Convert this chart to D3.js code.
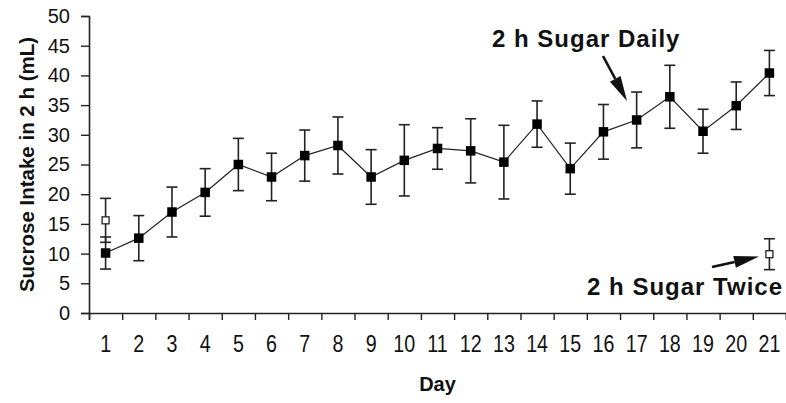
<!DOCTYPE html>
<html>
<head>
<meta charset="utf-8">
<script src="https://cdn.jsdelivr.net/npm/d3@7"></script>
<style>
  body { margin: 0; background: #fff; }
  text { font-family: "Liberation Sans", Arial, sans-serif; fill: #111; }
</style>
</head>
<body>
<div id="chart"></div>
<script>
// data
var days = [1, 2, 3, 4, 5, 6, 7, 8, 9, 10, 11, 12, 13, 14, 15, 16, 17, 18, 19, 20, 21];
var dailyMean = [10.1, 12.6, 17.0, 20.3, 25.0, 22.9, 26.5, 28.2, 22.9, 25.7, 27.7, 27.3, 25.4, 31.8, 24.3, 30.5, 32.5, 36.4, 30.6, 34.9, 40.4];
var dailyErr = [2.7, 3.8, 4.2, 4.0, 4.4, 4.0, 4.3, 4.8, 4.6, 6.0, 3.5, 5.4, 6.2, 3.9, 4.3, 4.6, 4.7, 5.3, 3.7, 4.0, 3.8];
var twiceDays = [1, 21];
var twiceMean = [15.6, 9.9];
var twiceErr = [3.7, 2.6];
var yTicks = [0, 5, 10, 15, 20, 25, 30, 35, 40, 45, 50];

var W = 786, H = 403;
var mLeft = 89, mRight = 786, mTop = 16, mBottom = 313;

var svg = d3.select("#chart").append("svg")
    .attr("width", W).attr("height", H);

var x = d3.scaleBand().domain(days).range([mLeft, mRight]).padding(0);
var xEdge = d3.scaleLinear().domain([0, days.length]).range([mLeft, mRight]);
var y = d3.scaleLinear().domain([0, 50]).range([mBottom, mTop]);

// y axis
var yAxis = svg.append("g")
    .attr("transform", "translate(" + mLeft + ",0)")
    .call(d3.axisLeft(y).tickValues(yTicks).tickSize(8).tickPadding(11));
yAxis.selectAll("text").style("font-size", "20px");

// x axis: boundary ticks + centred labels
svg.append("g")
    .attr("transform", "translate(0," + mBottom + ")")
    .call(d3.axisBottom(xEdge).tickValues(d3.range(0, days.length + 1)).tickSize(7).tickFormat(""));
var xLab = svg.append("g")
    .attr("transform", "translate(0," + mBottom + ")")
    .call(d3.axisBottom(x).tickSize(0).tickPadding(22));
xLab.select(".domain").remove();
xLab.selectAll("text").style("font-size", "24px").attr("transform", "scale(0.82,1)");

svg.selectAll(".domain").attr("stroke", "#222").attr("stroke-width", 1.6);
svg.selectAll(".tick line").attr("stroke", "#222").attr("stroke-width", 1.4);

// axis titles
svg.append("text")
    .attr("transform", "translate(34," + ((mTop + mBottom) / 2) + ") rotate(-90)")
    .attr("text-anchor", "middle")
    .style("font-size", "20.5px").style("font-weight", "bold")
    .text("Sucrose Intake in 2 h (mL)");
svg.append("text")
    .attr("x", x(11) + x.bandwidth() / 2).attr("y", 391)
    .attr("text-anchor", "middle")
    .style("font-size", "20px").style("font-weight", "bold")
    .text("Day");

var cx = function (d) { return x(d) + x.bandwidth() / 2; };
var capW = 5.5;

function errorBars(g, dayArr, mean, err) {
  var rows = dayArr.map(function (d, i) { return { day: d, m: mean[i], e: err[i] }; });
  var eb = g.selectAll(null).data(rows).enter().append("g")
      .attr("stroke", "#222").attr("stroke-width", 1.6);
  eb.append("line")
      .attr("x1", function (d) { return cx(d.day); })
      .attr("x2", function (d) { return cx(d.day); })
      .attr("y1", function (d) { return y(d.m - d.e); })
      .attr("y2", function (d) { return y(d.m + d.e); });
  eb.append("line")
      .attr("x1", function (d) { return cx(d.day) - capW; })
      .attr("x2", function (d) { return cx(d.day) + capW; })
      .attr("y1", function (d) { return y(d.m + d.e); })
      .attr("y2", function (d) { return y(d.m + d.e); });
  eb.append("line")
      .attr("x1", function (d) { return cx(d.day) - capW; })
      .attr("x2", function (d) { return cx(d.day) + capW; })
      .attr("y1", function (d) { return y(d.m - d.e); })
      .attr("y2", function (d) { return y(d.m - d.e); });
  return rows;
}

var plot = svg.append("g");
errorBars(plot, twiceDays, twiceMean, twiceErr);
var dailyRows = errorBars(plot, days, dailyMean, dailyErr);

// daily line
plot.append("path")
    .datum(dailyRows)
    .attr("fill", "none").attr("stroke", "#222").attr("stroke-width", 1.2)
    .attr("d", d3.line().x(function (d) { return cx(d.day); }).y(function (d) { return y(d.m); }));

// markers
var s = 9.5;
plot.selectAll(".daily").data(dailyRows).enter().append("rect")
    .attr("x", function (d) { return cx(d.day) - s / 2; })
    .attr("y", function (d) { return y(d.m) - s / 2; })
    .attr("width", s).attr("height", s)
    .attr("fill", "#000");

var h = 7;
plot.selectAll(".twice").data(twiceDays.map(function (d, i) { return { day: d, m: twiceMean[i] }; }))
    .enter().append("rect")
    .attr("x", function (d) { return cx(d.day) - h / 2; })
    .attr("y", function (d) { return y(d.m) - h / 2; })
    .attr("width", h).attr("height", h)
    .attr("fill", "#fff").attr("stroke", "#222").attr("stroke-width", 1.3);

// annotations
function arrow(x1, y1, x2, y2, headLen, headW) {
  var ang = Math.atan2(y2 - y1, x2 - x1);
  var bx = x2 - headLen * Math.cos(ang), by = y2 - headLen * Math.sin(ang);
  var px = -Math.sin(ang) * headW / 2, py = Math.cos(ang) * headW / 2;
  svg.append("line")
      .attr("x1", x1).attr("y1", y1).attr("x2", bx).attr("y2", by)
      .attr("stroke", "#111").attr("stroke-width", 2.6);
  svg.append("path")
      .attr("d", "M" + x2 + "," + y2 + "L" + (bx + px) + "," + (by + py) + "L" + (bx - px) + "," + (by - py) + "Z")
      .attr("fill", "#111");
}

svg.append("text")
    .attr("x", 492).attr("y", 47)
    .style("font-size", "24px").style("font-weight", "bold")
    .style("letter-spacing", "1px")
    .text("2 h Sugar Daily");
arrow(603, 56, 627, 101, 25, 12);

svg.append("text")
    .attr("x", 783).attr("y", 295)
    .attr("text-anchor", "end")
    .style("font-size", "24px").style("font-weight", "bold")
    .style("letter-spacing", "1px")
    .text("2 h Sugar Twice");
arrow(712, 267, 759, 256.5, 25, 12);
</script>
</body>
</html>
